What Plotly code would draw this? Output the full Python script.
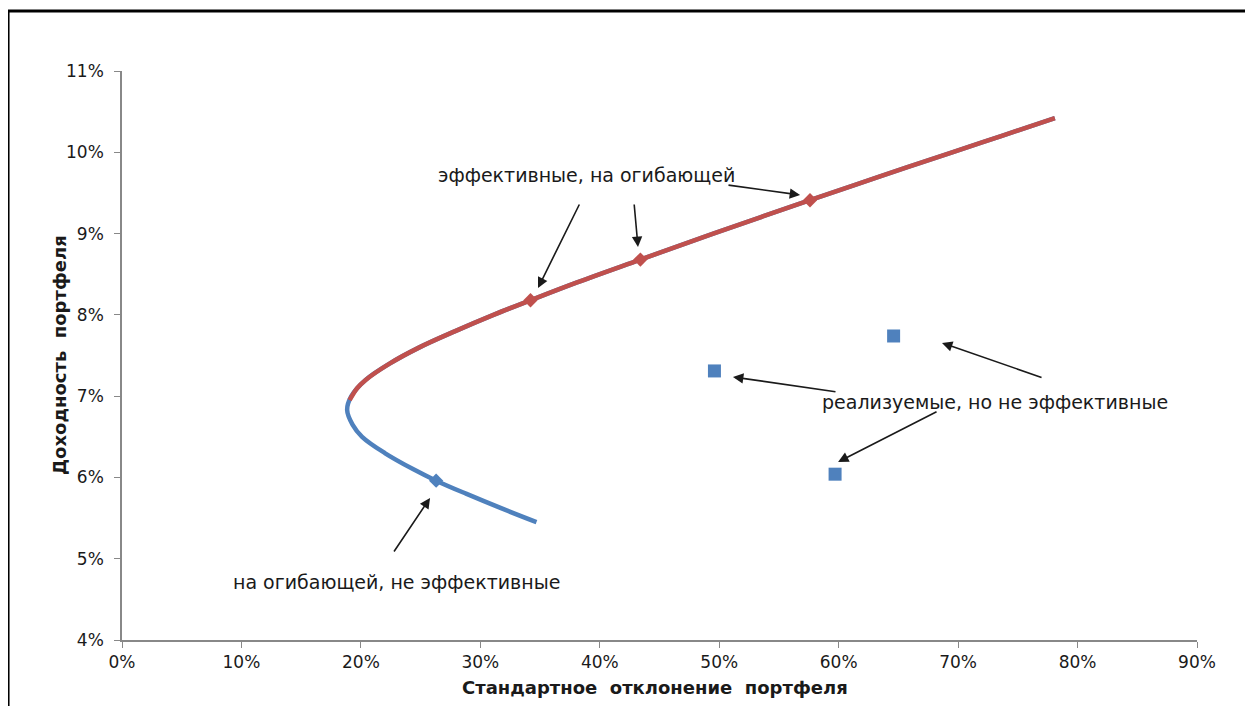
import plotly.graph_objects as go

# --- data (percent) ---
# full envelope (blue), read along the curve from bottom end to top end
env_ret = [5.45, 5.6, 5.8, 5.96, 6.1, 6.3, 6.5, 6.65, 6.83, 7.0, 7.2, 7.4, 7.6, 7.8, 8.0, 8.18, 8.4, 8.68, 9.0, 9.41, 9.7, 10.0, 10.2, 10.42]
env_std = [34.7, 32.1, 28.8, 26.3, 24.4, 22.0, 20.1, 19.3, 18.85, 19.2, 20.4, 22.4, 24.9, 27.9, 31.1, 34.2, 38.1, 43.4, 49.5, 57.6, 63.4, 69.5, 73.6, 78.1]
# efficient part (red), from top of vertex to top end
eff_ret = [6.95, 7.1, 7.2, 7.4, 7.6, 7.8, 8.0, 8.18, 8.4, 8.68, 9.0, 9.41, 9.7, 10.0, 10.2, 10.42]
eff_std = [19.05, 19.7, 20.4, 22.4, 24.9, 27.9, 31.1, 34.2, 38.1, 43.4, 49.5, 57.6, 63.4, 69.5, 73.6, 78.1]
# marked portfolios
eff_pts_std = [34.2, 43.4, 57.6]
eff_pts_ret = [8.18, 8.68, 9.41]
ineff_pts_std = [26.3]
ineff_pts_ret = [5.96]
# feasible but not efficient
feas_std = [49.6, 64.6, 59.7]
feas_ret = [7.31, 7.74, 6.04]

x_ticks = [0, 10, 20, 30, 40, 50, 60, 70, 80, 90]
y_ticks = [4, 5, 6, 7, 8, 9, 10, 11]

BLUE = "#4F81BD"
RED = "#C0504D"
FONT = "DejaVu Sans"
TXT = "#1a1a1a"

fig = go.Figure()
fig.add_trace(go.Scatter(x=env_std, y=env_ret, mode="lines", line=dict(color=BLUE, width=4.5, shape="spline"), showlegend=False))
fig.add_trace(go.Scatter(x=eff_std, y=eff_ret, mode="lines", line=dict(color=RED, width=4.5, shape="spline"), showlegend=False))
fig.add_trace(go.Scatter(x=eff_pts_std, y=eff_pts_ret, mode="markers", marker=dict(symbol="diamond", color=RED, size=11), showlegend=False))
fig.add_trace(go.Scatter(x=ineff_pts_std, y=ineff_pts_ret, mode="markers", marker=dict(symbol="diamond", color=BLUE, size=11), showlegend=False))
fig.add_trace(go.Scatter(x=feas_std, y=feas_ret, mode="markers", marker=dict(symbol="square", color=BLUE, size=13), showlegend=False))

# arrows: (tail_x, tail_y, head_x, head_y) in data units
arrows = [
    (38.35, 9.376, 34.83, 8.331),
    (42.87, 9.376, 43.2, 8.835),
    (50.65, 9.598, 56.77, 9.475),
    (22.69, 5.071, 25.79, 5.748),
    (59.86, 7.052, 51.15, 7.236),
    (77.11, 7.224, 68.65, 7.654),
    (68.32, 6.818, 59.95, 6.191),
]
for tx, ty, hx, hy in arrows:
    fig.add_annotation(x=hx, y=hy, ax=tx, ay=ty, xref="x", yref="y", axref="x", ayref="y",
                       text="", showarrow=True, arrowhead=2, arrowsize=1.3, arrowwidth=1.6, arrowcolor=TXT)

labels = [
    ("эффективные, на огибающей", 38.85, 9.72),
    ("на огибающей, не эффективные", 22.94, 4.715),
    ("реализуемые, но не эффективные", 73.09, 6.929),
]
for t, x, y in labels:
    fig.add_annotation(x=x, y=y, xref="x", yref="y", text=t, showarrow=False,
                       font=dict(family=FONT, size=19, color=TXT))

# axis titles
fig.add_annotation(x=0.4958, y=-0.1055, xref="paper", yref="paper", text="<b>Стандартное  отклонение  портфеля</b>",
                   showarrow=False, font=dict(family=FONT, size=18, color=TXT))
fig.add_annotation(x=-0.0698, y=0.5018, xref="paper", yref="paper", text="<b>Доходность  портфеля</b>",
                   textangle=-90, showarrow=False, font=dict(family=FONT, size=18, color=TXT))

# outer frame
fig.add_shape(type="path", xref="paper", yref="paper",
              path="M -0.106,-0.3 L -0.106,1.1054 L 1.0465,1.1054 L 1.0465,-0.3",
              line=dict(color="black", width=3))

fig.update_xaxes(range=[0, 90], tickvals=x_ticks, ticktext=[f"{v}%" for v in x_ticks],
                 showgrid=False, zeroline=False, showline=True, linecolor="#888888", linewidth=1.5,
                 ticks="outside", ticklen=6, tickcolor="#888888", tickfont=dict(family=FONT, size=17, color=TXT))
fig.update_yaxes(range=[4, 11], tickvals=y_ticks, ticktext=[f"{v}%" for v in y_ticks],
                 showgrid=False, zeroline=False, showline=True, linecolor="#888888", linewidth=1.5,
                 ticks="outside", ticklen=6, tickcolor="#888888", ticklabelstandoff=7,
                 tickfont=dict(family=FONT, size=17, color=TXT))

# page body has an 8px margin, so the figure is sized/placed to compensate
fig.update_layout(width=1245, height=698, margin=dict(l=114, r=56, t=63, b=66),
                  plot_bgcolor="white", paper_bgcolor="white", showlegend=False)

fig.write_html("out.html")
